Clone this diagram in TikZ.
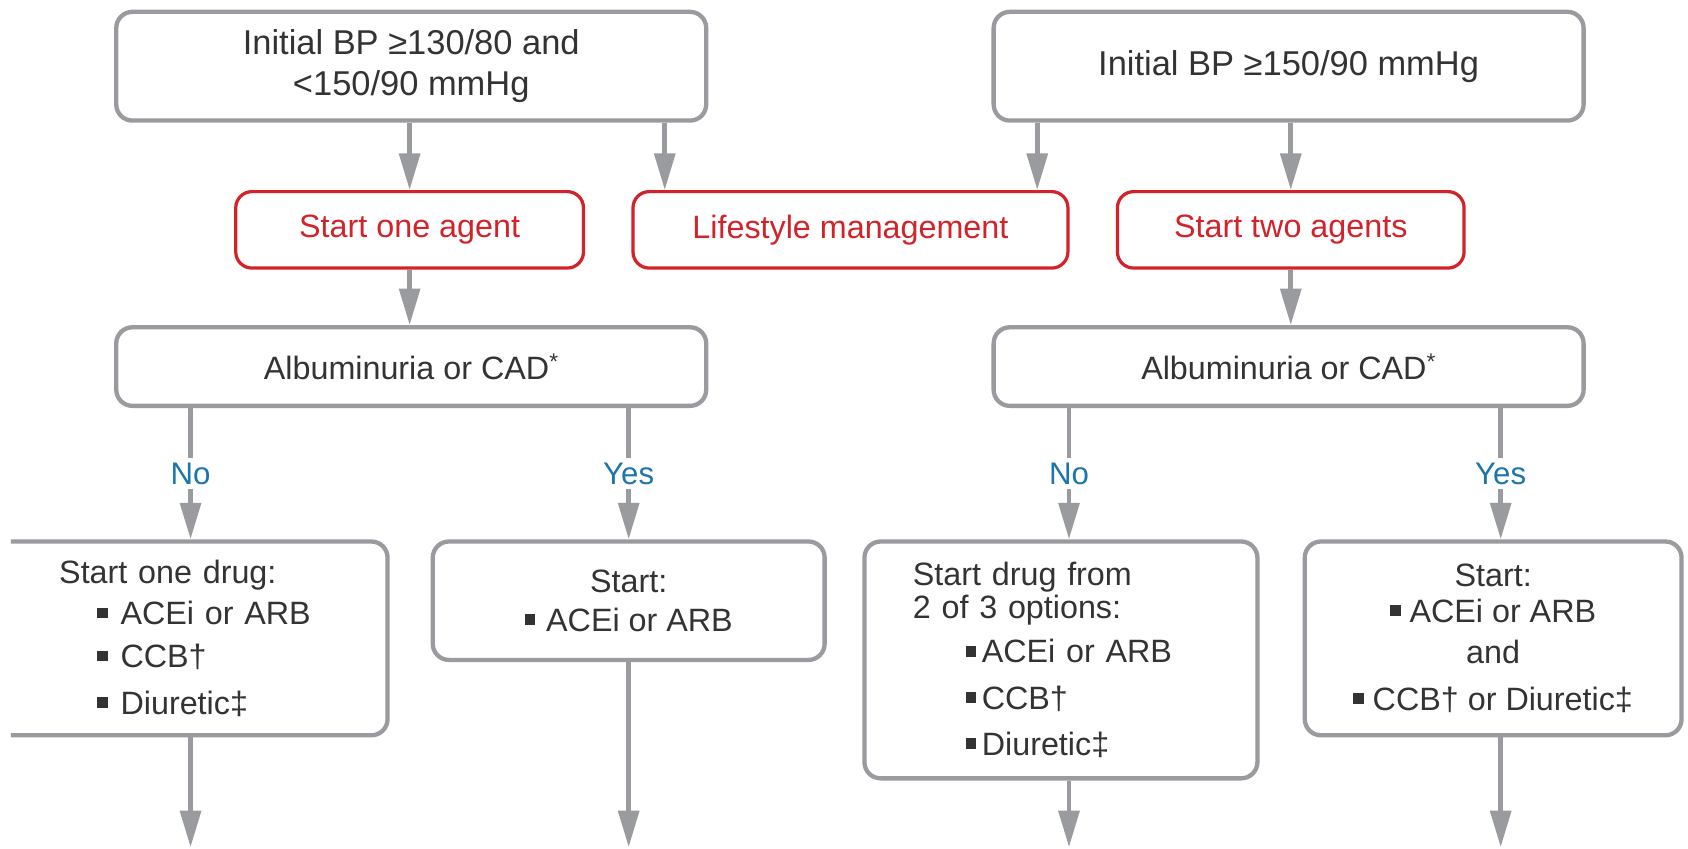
\documentclass[tikz,border=0pt]{standalone}
\usepackage{fontspec}
\setmainfont{Liberation Sans}
\usetikzlibrary{arrows.meta,calc}
\definecolor{boxgray}{HTML}{9A9B9F}
\definecolor{txt}{HTML}{333333}
\definecolor{redb}{HTML}{D2232A}
\definecolor{blu}{HTML}{1C75AB}
\newcommand\sqb[1]{\raisebox{6pt}{\rule{10pt}{10pt}}\hspace{#1}}
\begin{document}
\begin{tikzpicture}[x=1pt,y=-1pt,
  gbox/.style={draw=boxgray, line width=4pt, rounded corners=15pt, fill=white, text=txt, inner sep=0pt, font=\fontsize{30}{36}\selectfont},
  rbox/.style={draw=redb, line width=3pt, rounded corners=15pt, fill=white, text=redb, inner sep=0pt, font=\fontsize{30}{36}\selectfont},
  arr/.style={draw=boxgray, line width=4.5pt, -{Triangle[length=34pt,width=19pt]}},
  lbl/.style={fill=white, text=blu, inner xsep=2pt, inner ysep=4pt, font=\fontsize{29}{32}\selectfont}
]
\useasboundingbox (0,0) rectangle (1568,788);
\fill[white] (0,0) rectangle (1568,788);

% top boxes
\node[gbox, minimum width=548pt, minimum height=101pt, align=center, font=\fontsize{32}{38}\selectfont] (A) at (382,61.5) {Initial BP ≥130/80 and\\<150/90 mmHg};
\node[gbox, minimum width=548pt, minimum height=101pt, font=\fontsize{32}{38}\selectfont] (B) at (1197,61.5) {Initial BP ≥150/90 mmHg};

% red boxes
\node[rbox, minimum width=323pt, minimum height=71pt] (S1) at (380.5,213.5) {Start one agent};
\node[rbox, minimum width=404pt, minimum height=71pt] (LM) at (790,213.5) {Lifestyle management};
\node[rbox, minimum width=322pt, minimum height=71pt] (S2) at (1199,213.5) {Start two agents};

% albuminuria boxes
\node[gbox, minimum width=548pt, minimum height=73pt] (AL) at (382,340.5) {Albuminuria or CAD\textsuperscript{*}};
\node[gbox, minimum width=548pt, minimum height=73pt] (AR) at (1197,340.5) {Albuminuria or CAD\textsuperscript{*}};

% bottom boxes
\begin{scope}
\clip (10,0) rectangle (1568,788);
\node[gbox, text width=240pt, inner xsep=65pt, minimum height=180pt, align=left] (BL) at (175,593)
  {Start one drug:\\[2pt]
   \hspace{35pt}\sqb{12pt}ACEi or ARB\\[4pt]
   \hspace{35pt}\sqb{12pt}CCB†\\[7pt]
   \hspace{35pt}\sqb{12pt}Diuretic‡};
\end{scope}
\node[gbox, minimum width=364pt, minimum height=110pt, align=center] (BM) at (584,558)
  {Start:\\ \sqb{10pt}ACEi or ARB};
\node[gbox, text width=275pt, inner xsep=45pt, minimum height=220pt, align=left, font=\fontsize{30}{31}\selectfont] (BR1) at (985.5,613)
  {Start drug from\\
   2 of 3 options:\\[10pt]
   \hspace{49pt}\sqb{5pt}ACEi or ARB\\[12pt]
   \hspace{49pt}\sqb{5pt}CCB†\\[12pt]
   \hspace{49pt}\sqb{5pt}Diuretic‡};
\node[gbox, minimum width=350pt, minimum height=180pt, align=center, font=\fontsize{30}{33}\selectfont] (BR2) at (1387,593)
  {Start:\\
   \sqb{8pt}ACEi or ARB\\[5pt]
   and\\[11pt]
   \sqb{8pt}CCB† or Diuretic‡};

% coordinates
\coordinate (l1) at ($(LM.north west)+(31,0)$);
\coordinate (l2) at ($(LM.north east)+(-30,0)$);
\coordinate (c1) at (177,0);
\coordinate (c2) at (584,0);
\coordinate (c3) at (993,0);
\coordinate (c4) at (1394,0);
\coordinate (e1) at (177,787);
\coordinate (e2) at (584,787);
\coordinate (e3) at (993,787);
\coordinate (e4) at (1394,787);

% connectors
\draw[arr] (S1.north |- A.south) -- (S1.north);
\draw[arr] (l1 |- A.south) -- (l1);
\draw[arr] (l2 |- B.south) -- (l2);
\draw[arr] (S2.north |- B.south) -- (S2.north);
\draw[arr] (S1.south) -- (S1.south |- AL.north);
\draw[arr] (S2.south) -- (S2.south |- AR.north);

\draw[arr] (c1 |- AL.south) -- node[lbl]{No} (c1 |- BL.north);
\draw[arr] (c2 |- AL.south) -- node[lbl]{Yes} (c2 |- BM.north);
\draw[arr] (c3 |- AR.south) -- node[lbl]{No} (c3 |- BR1.north);
\draw[arr] (c4 |- AR.south) -- node[lbl]{Yes} (c4 |- BR2.north);

\draw[arr] (c1 |- BL.south) -- (e1);
\draw[arr] (c2 |- BM.south) -- (e2);
\draw[arr] (c3 |- BR1.south) -- (e3);
\draw[arr] (c4 |- BR2.south) -- (e4);
\end{tikzpicture}
\end{document}
